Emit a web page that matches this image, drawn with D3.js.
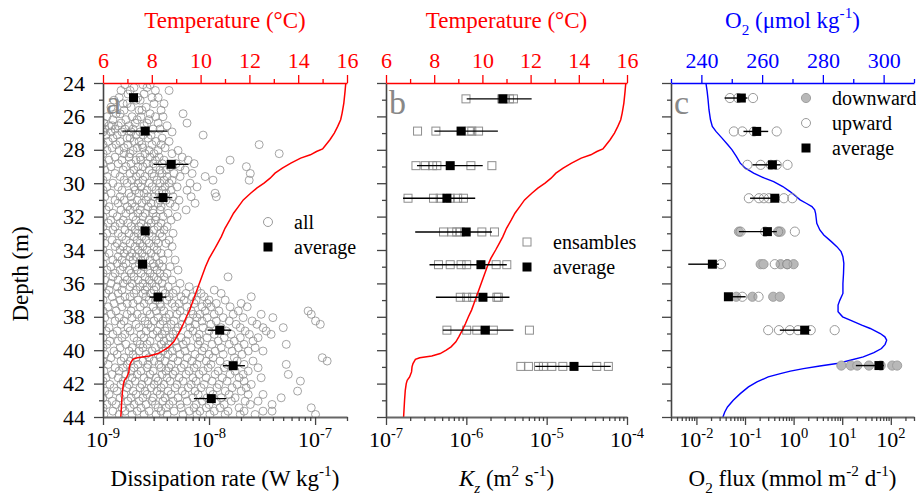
<!DOCTYPE html>
<html>
<head>
<meta charset="utf-8">
<script src="https://cdn.jsdelivr.net/npm/d3@7"></script>
<style>
  body { margin: 0; background: #fff; }
</style>
</head>
<body>
<svg id="chart" width="916" height="496"></svg>
<script>
// ---- data ----

// temperature profile (same cast used in panels a and b)
const tempDepth = [24.0, 24.5, 25.2, 25.8, 26.2, 26.6, 27.0, 27.4, 27.8, 27.95, 28.1, 28.3, 28.5, 28.8, 29.1, 29.4, 29.7, 30.0, 30.3, 30.6, 31.0, 31.4, 31.8, 32.2, 32.7, 33.2, 33.6, 34.0, 34.5, 35.0, 35.6, 36.2, 36.8, 37.2, 37.6, 38.0, 38.4, 38.8, 39.2, 39.5, 39.8, 40.0, 40.2, 40.35, 40.45, 40.55, 40.8, 41.0, 41.3, 41.6, 41.8, 42.0, 42.4, 43.0, 44.0];
const tempValue = [15.95, 15.92, 15.87, 15.8, 15.74, 15.62, 15.48, 15.3, 15.08, 15.0, 14.75, 14.5, 14.1, 13.7, 13.35, 13.05, 12.85, 12.6, 12.3, 12.05, 11.75, 11.55, 11.35, 11.2, 11.0, 10.85, 10.7, 10.55, 10.35, 10.2, 10.05, 9.9, 9.75, 9.65, 9.55, 9.42, 9.3, 9.17, 9.02, 8.9, 8.7, 8.5, 8.25, 7.9, 7.4, 7.22, 7.12, 7.08, 7.06, 6.98, 6.88, 6.84, 6.8, 6.77, 6.73];

// O2 profile (panel c)
const o2Depth = [24.0, 24.5, 25.0, 25.6, 26.2, 26.6, 26.9, 27.3, 27.7, 28.0, 28.4, 28.8, 29.1, 29.4, 29.7, 29.9, 30.2, 30.5, 30.8, 31.0, 31.2, 31.4, 31.6, 31.8, 32.1, 32.4, 32.8, 33.1, 33.5, 33.8, 34.1, 34.4, 34.8, 35.4, 36.0, 36.6, 37.0, 37.3, 37.7, 38.0, 38.2, 38.5, 38.7, 39.0, 39.2, 39.4, 39.65, 39.9, 40.15, 40.4, 40.6, 40.8, 40.95, 41.1, 41.25, 41.4, 41.6, 41.9, 42.2, 42.6, 43.0, 43.4, 43.7, 44.0];
const o2Value = [241.5, 241.9, 242.2, 242.5, 243.0, 243.6, 244.8, 246.8, 248.7, 250.1, 251.5, 252.8, 254.5, 257.2, 260.8, 263.8, 266.8, 269.2, 271.2, 272.5, 274.5, 276.4, 277.3, 277.6, 277.8, 278.0, 279.0, 280.3, 282.8, 284.6, 286.0, 286.6, 286.9, 286.8, 286.6, 286.6, 285.6, 285.0, 285.0, 286.5, 289.0, 292.8, 295.6, 298.9, 300.4, 301.0, 300.5, 299.3, 296.8, 293.3, 289.0, 284.6, 279.0, 273.6, 269.3, 266.0, 262.0, 258.3, 255.5, 252.8, 250.5, 248.6, 247.7, 247.1];

// dissipation rate, all samples: [depth, values in 1e-9 W kg-1]
const epsRows = [
  [24.1, [1.61, 2.38, 2.78]],
  [24.27, [1.96, 2.6]],
  [24.45, [1.48, 1.8, 3.12, 4.2]],
  [24.66, [1.72, 2.44]],
  [24.87, [1.42, 2.14, 2.9, 3.31]],
  [25.03, [1.27, 2.05, 2.24]],
  [25.24, [1.55, 1.69, 3.03, 3.76]],
  [25.45, [1.19, 1.84, 2.55]],
  [25.63, [1.58, 2.19, 2.33, 3.53]],
  [25.84, [1.33, 1.45, 2.78, 5.69]],
  [26.02, [1.09, 1.88, 2.28, 3.12, 3.68]],
  [26.2, [1.24, 1.65, 2.1, 2.72]],
  [26.4, [1.02, 1.48, 2.01, 2.6, 3.31, 6.2]],
  [26.57, [1.14, 1.22, 1.39, 1.76, 2.44, 4.02]],
  [26.76, [1.04, 1.3, 1.61, 1.92, 2.97, 3.45]],
  [26.93, [1.0, 1.19, 1.51, 1.84, 2.24, 4.48]],
  [27.12, [1.07, 1.36, 2.05, 2.38, 2.84, 8.8]],
  [27.3, [1.24, 1.69, 1.8, 2.66, 3.61]],
  [27.5, [1.12, 1.45, 1.96, 2.19, 3.17, 4.2]],
  [27.69, [1.0, 1.33, 1.72, 2.33, 2.9, 3.53, 29.7]],
  [27.88, [1.22, 1.58, 2.1, 2.38, 3.85]],
  [28.04, [1.09, 1.42, 1.92, 2.72, 3.31, 5.1]],
  [28.23, [1.0, 1.58, 1.8, 2.49, 3.03, 4.48, 45.9]],
  [28.44, [1.3, 1.76, 2.24, 2.78, 3.38, 5.58]],
  [28.62, [1.14, 1.51, 2.05, 2.28, 3.12, 3.76, 6.35, 15.8]],
  [28.83, [1.0, 1.39, 1.84, 2.6, 2.97, 3.61, 4.89, 7.23]],
  [29.01, [1.19, 1.65, 2.14, 2.38, 3.17, 4.29, 5.33, 22.5]],
  [29.21, [1.04, 1.55, 1.96, 2.72, 3.45, 3.93, 5.95, 12.7]],
  [29.42, [1.3, 1.8, 2.24, 2.9, 3.61, 4.68, 6.92, 24.5]],
  [29.6, [1.09, 1.45, 2.05, 2.49, 3.03, 4.02, 5.33, 9.2]],
  [29.82, [1.0, 1.58, 1.88, 2.38, 3.23, 3.76, 4.48, 10.9, 23.9]],
  [30.0, [1.24, 1.69, 2.14, 2.72, 3.45, 4.2, 6.63]],
  [30.22, [1.09, 1.39, 1.96, 2.28, 2.9, 3.85, 5.0, 7.7]],
  [30.42, [1.0, 1.51, 2.01, 2.6, 3.17, 3.61, 4.39, 6.2]],
  [30.6, [1.19, 1.76, 2.19, 2.44, 3.38, 3.93, 11.4]],
  [30.81, [1.04, 1.45, 1.84, 2.66, 3.03, 4.58, 6.78, 11.7]],
  [31.02, [1.3, 1.58, 2.1, 2.55, 3.45, 3.93, 5.21]],
  [31.2, [1.0, 1.39, 1.88, 2.33, 2.84, 3.31, 4.29, 7.38]],
  [31.41, [1.14, 1.69, 2.01, 2.66, 3.53, 4.79]],
  [31.6, [1.07, 1.48, 1.8, 2.24, 2.97, 3.45, 6.08]],
  [31.8, [1.24, 1.65, 2.14, 2.49, 2.97, 4.11]],
  [32.0, [1.0, 1.36, 1.92, 2.38, 3.17, 3.68, 5.0]],
  [32.21, [1.19, 1.55, 2.05, 2.72, 3.12, 4.39]],
  [32.39, [1.12, 1.45, 1.72, 2.28, 2.84, 3.53]],
  [32.6, [1.0, 1.3, 1.84, 2.19, 2.6, 3.31, 4.02]],
  [32.8, [1.24, 1.61, 2.01, 2.44, 3.03, 3.76]],
  [33.0, [1.09, 1.39, 1.76, 2.14, 2.72, 3.45, 4.58]],
  [33.19, [1.0, 1.51, 1.96, 2.33, 2.9, 3.61]],
  [33.41, [1.22, 1.65, 2.1, 2.55, 3.17, 4.2]],
  [33.6, [1.04, 1.36, 1.8, 2.24, 2.72, 3.31, 3.93]],
  [33.79, [1.3, 1.55, 2.01, 2.38, 3.03, 4.48]],
  [34.0, [1.0, 1.45, 1.69, 2.14, 2.6, 3.23]],
  [34.2, [1.14, 1.58, 1.88, 2.33, 2.84, 3.53, 4.11]],
  [34.4, [1.04, 1.39, 1.8, 2.05, 2.49, 3.12]],
  [34.6, [1.24, 1.51, 1.92, 2.28, 2.78, 3.68, 4.79]],
  [34.81, [1.0, 1.36, 1.65, 2.19, 2.97, 3.38]],
  [35.0, [1.19, 1.55, 2.01, 2.44, 3.03, 3.61, 4.29]],
  [35.2, [1.09, 1.45, 1.76, 2.1, 2.66, 3.23, 5.1]],
  [35.4, [1.0, 1.3, 1.84, 2.28, 2.78, 3.45, 4.02]],
  [35.61, [1.24, 1.61, 1.96, 2.49, 3.03, 3.76, 15.1]],
  [35.8, [1.04, 1.39, 1.69, 2.14, 2.72, 3.31, 4.48]],
  [36.0, [1.19, 1.55, 1.88, 2.38, 2.9, 3.61, 5.33]],
  [36.2, [1.0, 1.36, 1.8, 2.24, 2.6, 3.17, 4.11, 6.49]],
  [36.4, [1.14, 1.51, 2.05, 2.49, 3.03, 3.68, 4.89, 7.7, 11.2]],
  [36.6, [1.07, 1.39, 1.96, 2.38, 2.84, 3.85, 4.58, 6.08, 8.4, 13.0]],
  [36.8, [1.22, 1.61, 1.8, 2.55, 3.31, 4.2, 5.45, 6.92, 9.0, 25.0]],
  [37.0, [1.0, 1.45, 2.14, 2.72, 3.12, 4.02, 5.82, 7.55, 10.0, 14.2]],
  [37.2, [1.27, 1.69, 1.92, 2.44, 3.45, 4.48, 5.21, 7.23, 9.6, 11.7, 20.1]],
  [37.4, [1.12, 1.51, 2.24, 2.97, 3.53, 4.79, 6.2, 8.6, 10.4, 15.8, 22.9]],
  [37.65, [1.0, 1.33, 1.84, 2.6, 3.17, 3.76, 5.33, 6.78, 9.2, 12.4, 18.9, 86]],
  [37.85, [1.19, 1.69, 2.1, 2.78, 4.2, 5.0, 7.07, 8.2, 11.2, 16.9, 31, 92]],
  [38.05, [1.04, 1.42, 1.88, 2.33, 3.31, 3.93, 5.69, 7.7, 9.6, 13.6, 21, 40]],
  [38.25, [1.3, 1.58, 2.49, 3.03, 3.68, 4.68, 6.49, 8.6, 11.7, 15.5, 25.5, 101]],
  [38.45, [1.0, 1.48, 2.05, 2.66, 3.45, 4.39, 5.58, 7.38, 10.4, 18, 28.3, 112]],
  [38.65, [1.14, 1.72, 2.19, 2.84, 4.02, 5.1, 6.63, 8.8, 13.0, 19.7, 32.3, 50.1]],
  [38.85, [1.07, 1.36, 1.8, 2.55, 3.23, 3.85, 4.89, 7.07, 10.0, 14.5, 21.9, 34.6]],
  [39.05, [1.24, 1.61, 2.28, 2.97, 3.61, 4.58, 6.35, 8.05, 11.2, 16.2, 24, 38.5]],
  [39.25, [1.0, 1.51, 1.96, 2.44, 3.38, 4.29, 5.45, 7.7, 9.6, 13.9, 19.7, 29]],
  [39.45, [1.16, 1.39, 2.1, 2.78, 3.76, 4.79, 6.08, 8.2, 12.2, 17.3, 26]],
  [39.65, [1.09, 1.65, 2.24, 2.6, 3.53, 4.2, 5.69, 7.9, 10.7, 15.5, 21.4, 53.5]],
  [39.85, [1.0, 1.45, 1.88, 2.38, 3.12, 3.93, 5.0, 6.78, 9.0, 13.0, 18.9, 27.2]],
  [40.05, [1.27, 1.76, 2.19, 2.9, 3.68, 4.48, 5.95, 8.6, 11.4, 16.5, 23.4, 32.3]],
  [40.25, [1.04, 1.36, 1.92, 2.55, 3.31, 4.11, 5.33, 7.38, 10.0, 13.6, 20.5]],
  [40.45, [1.19, 1.58, 2.05, 2.72, 3.45, 4.58, 6.2, 8.2, 10.9, 17.3, 117]],
  [40.65, [1.0, 1.48, 1.8, 2.38, 3.03, 3.85, 5.1, 6.92, 9.4, 12.7, 18.4, 26, 130]],
  [40.85, [1.12, 1.69, 2.14, 2.66, 3.38, 4.39, 5.82, 7.7, 10.4, 14.8, 21.4, 53.5]],
  [41.05, [1.3, 1.55, 1.96, 2.6, 3.53, 4.2, 5.45, 7.23, 9.8, 13.9, 29]],
  [41.25, [1.02, 1.42, 1.84, 2.28, 2.97, 3.93, 4.79, 6.49, 8.8, 12.2, 17.6, 23.4]],
  [41.45, [1.22, 1.65, 2.1, 2.78, 3.61, 4.58, 6.08, 8.05, 11.4, 15.8, 21, 55.9]],
  [41.65, [1.07, 1.39, 1.88, 2.44, 3.17, 4.02, 5.21, 7.07, 9.4, 13.3, 19.2, 31]],
  [41.85, [1.0, 1.55, 2.01, 2.66, 3.31, 4.29, 5.69, 7.55, 10.7, 14.8, 21.4, 72.7]],
  [42.05, [1.16, 1.48, 1.76, 2.33, 3.03, 3.76, 5.0, 6.78, 9.0, 12.4, 18.4, 25]],
  [42.25, [1.27, 1.69, 2.24, 2.84, 3.53, 4.79, 6.35, 8.4, 11.9, 16.5, 22.4]],
  [42.45, [1.04, 1.36, 1.92, 2.49, 3.23, 4.11, 5.58, 7.38, 10.2, 14.2, 20.1, 68.4]],
  [42.65, [1.14, 1.58, 2.05, 2.6, 3.45, 4.39, 5.95, 7.9, 10.9, 15.5, 23.4, 32.3]],
  [42.85, [1.0, 1.45, 1.84, 2.38, 2.97, 3.85, 5.1, 7.07, 9.6, 13.0, 17.6, 47.9]],
  [43.05, [1.22, 1.72, 2.19, 2.9, 3.68, 4.58, 6.2, 8.6, 11.7, 16.2, 21.9, 29]],
  [43.25, [1.09, 1.33, 1.96, 2.55, 3.12, 4.2, 5.33, 7.55, 10.0, 13.9, 24.5, 39.3]],
  [43.45, [1.0, 1.51, 1.8, 2.28, 3.31, 3.93, 5.45, 7.23, 9.4, 12.7, 19.2, 92]],
  [43.65, [1.24, 1.61, 2.1, 2.72, 3.53, 4.68, 6.49, 8.2, 11.2, 15.1, 21.4, 32.3, 39.3]],
  [43.85, [1.02, 1.42, 1.88, 2.44, 3.17, 4.02, 5.69, 7.7, 10.2, 14.2, 19.7, 27.2, 101]]
];

// dissipation rate, bin averages (W kg-1)
const epsAvgDepth = [24.88, 26.88, 28.87, 30.86, 32.86, 34.85, 36.82, 38.8, 40.93, 42.9];
const epsAvg = [1.94e-9, 2.5e-9, 4.4e-9, 3.68e-9, 2.5e-9, 2.36e-9, 3.3e-9, 1.26e-8, 1.69e-8, 1.05e-8];
const epsLow = [1.85e-9, 1.52e-9, 3.0e-9, 3.0e-9, 2.4e-9, 2.25e-9, 2.75e-9, 9.7e-9, 1.35e-8, 7.2e-9];
const epsHigh = [2.03e-9, 4.07e-9, 6.4e-9, 4.5e-9, 2.6e-9, 2.47e-9, 3.96e-9, 1.62e-8, 2.18e-8, 1.46e-8];

// Kz ensembles (m2 s-1), one list per depth bin
const kzDepth = [24.95, 26.88, 28.95, 30.9, 32.92, 34.88, 36.83, 38.8, 40.97];
const kzEnsembles = [
  [9.9e-7, 2.77e-6, 2.96e-6, 3.44e-6, 3.86e-6],
  [2.47e-7, 4.18e-7, 1.09e-6, 1.17e-6, 1.42e-6],
  [2.36e-7, 3.08e-7, 3.8e-7, 4.3e-7, 1.14e-6, 2.08e-6],
  [1.88e-7, 3.9e-7, 4.73e-7, 6.3e-7, 7.8e-7, 9.2e-7],
  [5.2e-7, 6.6e-7, 7.6e-7, 8.4e-7, 1.56e-6, 2.24e-6],
  [4.5e-7, 6.3e-7, 8.6e-7, 1.01e-6, 2.35e-6, 3.19e-6],
  [8.4e-7, 1.01e-6, 1.2e-6, 2.4e-6, 2.5e-6],
  [5.73e-7, 1.01e-6, 1.35e-6, 2.17e-6, 6.1e-6],
  [4.77e-6, 5.93e-6, 7.9e-6, 9.1e-6, 1.16e-5, 1.59e-5, 4.2e-5, 5.86e-5]
];
const kzAvg = [2.85e-6, 8.6e-7, 6.3e-7, 5.73e-7, 9.96e-7, 1.52e-6, 1.61e-6, 1.72e-6, 2.19e-5];
const kzLow = [1.01e-6, 4.0e-7, 2.43e-7, 1.63e-7, 2.31e-7, 3.48e-7, 4.18e-7, 5.1e-7, 7.2e-6];
const kzHigh = [6.5e-6, 2.47e-6, 1.6e-6, 1.29e-6, 2.08e-6, 3.19e-6, 3.44e-6, 3.86e-6, 6.27e-5];

// O2 flux (mmol m-2 d-1), downward / upward estimates per depth bin
const fluxDepth = [24.9, 26.9, 28.9, 30.9, 32.9, 34.85, 36.8, 38.8, 40.92];
const fluxDown = [
  [], [], [], [],
  [0.075, 0.5, 0.54],
  [0.21, 0.24, 0.54, 0.74, 1.0],
  [0.066, 0.142, 0.38, 0.52],
  [],
  [9.6, 15, 20.4, 35.5, 62, 107, 135]
];
const fluxUp = [
  [0.049, 0.072, 0.146],
  [0.059, 0.088, 0.153, 0.449],
  [0.112, 0.21, 0.34, 0.45, 0.75],
  [0.12, 0.194, 0.245, 0.31, 0.63, 0.94],
  [0.081, 0.26, 0.48, 1.06],
  [0.032, 0.41, 0.74],
  [0.088, 0.19],
  [0.3, 0.5, 0.84, 1.23, 2.25, 7.0],
  []
];
const fluxAvg = [0.084, 0.174, 0.366, 0.41, 0.289, 0.0213, 0.0455, 1.69, 57];
const fluxLow = [0.038, 0.093, 0.143, 0.127, 0.075, 0.0068, 0.038, 0.52, 19.1];
const fluxHigh = [0.112, 0.3, 0.54, 0.5, 0.45, 0.029, 0.103, 2.25, 72];

const depthMajor = [24, 26, 28, 30, 32, 34, 36, 38, 40, 42, 44];
const depthMinor = [25, 27, 29, 31, 33, 35, 37, 39, 41, 43];
const tempMajor = [6, 8, 10, 12, 14, 16];
const tempMinor = [7, 9, 11, 13, 15];
const o2Major = [240, 260, 280, 300];
const o2Minor = [230, 250, 270, 290, 310];

// ---- layout ----
const FONT = '"Liberation Serif", "Times New Roman", Times, serif';
const svg = d3.select('#chart').attr('font-family', FONT);
const RED = '#ff0000', BLUE = '#0000ff';
const y = d3.scaleLinear().domain([24, 44]).range([83, 417]);

const pa = { left: 103, right: 347 };
const pb = { left: 386, right: 627 };
const pc = { left: 671, right: 914 };

const xTempA = d3.scaleLinear().domain([6, 16]).range([pa.left, pa.right]);
const xEps = d3.scaleLog().domain([1e-9, 2e-7]).range([pa.left, pa.right]);
const xTempB = d3.scaleLinear().domain([6, 16]).range([pb.left, pb.right]);
const xKz = d3.scaleLog().domain([1e-7, 1e-4]).range([pb.left, pb.right]);
const xO2 = d3.scaleLinear().domain([230, 310]).range([pc.left, pc.right]);
const xFlux = d3.scaleLog().domain([3e-3, 3e2]).range([pc.left, pc.right]);

// text with sub/superscripts: parts = [[text, 'sup'|'sub'|null, italic?]]
function richText(g, x, yy, parts, size, color) {
  const t = g.append('text')
    .attr('x', x).attr('y', yy)
    .attr('text-anchor', 'middle')
    .attr('font-family', FONT)
    .attr('font-size', size)
    .attr('fill', color || '#000');
  let shift = 0;
  parts.forEach(([str, kind, italic]) => {
    const target = kind === 'sup' ? -size * 0.42 : kind === 'sub' ? size * 0.3 : 0;
    const ts = t.append('tspan').attr('dy', target - shift).text(str);
    if (kind) ts.attr('font-size', size * 0.66);
    if (italic) ts.attr('font-style', 'italic');
    shift = target;
  });
  return t;
}

function drawAxes(p, topScale, topMaj, topMin, topColor, botScale, withDepthLabels) {
  // left depth axis
  const left = svg.append('g').attr('transform', `translate(${p.left},0)`);
  left.call(d3.axisLeft(y).tickValues(depthMajor).tickSize(9).tickSizeOuter(0)
    .tickPadding(9).tickFormat(withDepthLabels ? d3.format('d') : ''));
  left.append('g').call(d3.axisLeft(y).tickValues(depthMinor).tickSize(4).tickFormat(''))
    .select('.domain').remove();
  left.selectAll('path.domain').attr('stroke', '#444').attr('stroke-width', 1.6);
  left.selectAll('.tick line').attr('stroke', '#444').attr('stroke-width', 1.3);

  // bottom log axis
  const allTicks = botScale.ticks();
  const major = allTicks.filter(v => Math.abs(Math.log10(v) - Math.round(Math.log10(v))) < 1e-6);
  const minor = allTicks.filter(v => !major.includes(v));
  const bot = svg.append('g').attr('transform', `translate(0,${y(44)})`);
  bot.call(d3.axisBottom(botScale).tickValues(major).tickSize(8).tickSizeOuter(0).tickFormat(''));
  bot.append('g').call(d3.axisBottom(botScale).tickValues(minor).tickSize(4).tickFormat(''))
    .select('.domain').remove();
  bot.selectAll('path.domain').attr('stroke', '#666').attr('stroke-width', 2);
  bot.selectAll('.tick line').attr('stroke', '#444').attr('stroke-width', 1.3);
  major.forEach(v => {
    richText(bot, botScale(v), 30,
      [['10', null], [String(Math.round(Math.log10(v))), 'sup']], 22);
  });

  // top linear axis (profile variable)
  const top = svg.append('g').attr('transform', `translate(0,${y(24)})`);
  top.call(d3.axisTop(topScale).tickValues(topMaj).tickSize(8).tickSizeOuter(0)
    .tickPadding(7).tickFormat(d3.format('d')));
  top.append('g').call(d3.axisTop(topScale).tickValues(topMin).tickSize(4).tickFormat(''))
    .select('.domain').remove();
  top.selectAll('path.domain').attr('stroke', topColor).attr('stroke-width', 1.6);
  top.selectAll('.tick line').attr('stroke', topColor).attr('stroke-width', 1.3);
  top.selectAll('.tick text').attr('fill', topColor);

  [left, bot, top].forEach(g => {
    g.selectAll('g').attr('font-family', null);
    g.attr('font-family', FONT);
    g.selectAll('.tick text').attr('font-size', 22).attr('font-family', FONT);
  });
  left.selectAll('.tick text').attr('fill', '#000');
}

function clipFor(id, p) {
  svg.append('clipPath').attr('id', id).append('rect')
    .attr('x', p.left).attr('y', y(24)).attr('width', p.right - p.left).attr('height', y(44) - y(24));
  return `url(#${id})`;
}

function avgMarks(g, depths, avg, lo, hi, xs) {
  g.selectAll('line.err').data(depths).join('line')
    .attr('class', 'err')
    .attr('x1', (d, i) => xs(lo[i])).attr('x2', (d, i) => xs(hi[i]))
    .attr('y1', d => y(d)).attr('y2', d => y(d))
    .attr('stroke', '#000').attr('stroke-width', 1.4);
  g.selectAll('rect.avg').data(depths).join('rect')
    .attr('class', 'avg')
    .attr('x', (d, i) => xs(avg[i]) - 4.5).attr('y', d => y(d) - 4.5)
    .attr('width', 9).attr('height', 9).attr('fill', '#000');
}

const line = (xs, depths) => d3.line().x(d => xs(d[1])).y(d => y(d[0]))(depths);

// ---- panel a ----
const ga = svg.append('g');
const epsPoints = epsRows.flatMap(([d, vals]) => vals.map(v => [d, v * 1e-9]));
ga.append('g').attr('clip-path', clipFor('clipA', pa))
  .selectAll('circle').data(epsPoints).join('circle')
  .attr('cx', d => xEps(d[1])).attr('cy', d => y(d[0])).attr('r', 4)
  .attr('fill', 'none').attr('stroke', '#8e8e8e').attr('stroke-width', 0.8);
ga.append('path')
  .attr('d', line(xTempA, tempDepth.map((d, i) => [d, tempValue[i]])))
  .attr('fill', 'none').attr('stroke', RED).attr('stroke-width', 1.5);
avgMarks(ga, epsAvgDepth, epsAvg, epsLow, epsHigh, xEps);

// ---- panel b ----
const gb = svg.append('g');
const kzPoints = kzDepth.flatMap((d, i) => kzEnsembles[i].map(v => [d, v]));
gb.selectAll('rect.ens').data(kzPoints).join('rect')
  .attr('class', 'ens')
  .attr('x', d => xKz(d[1]) - 4).attr('y', d => y(d[0]) - 4)
  .attr('width', 8).attr('height', 8)
  .attr('fill', 'none').attr('stroke', '#8e8e8e').attr('stroke-width', 1);
gb.append('path')
  .attr('d', line(xTempB, tempDepth.map((d, i) => [d, tempValue[i]])))
  .attr('fill', 'none').attr('stroke', RED).attr('stroke-width', 1.5);
avgMarks(gb, kzDepth, kzAvg, kzLow, kzHigh, xKz);

// ---- panel c ----
const gc = svg.append('g');
gc.append('path')
  .attr('d', line(xO2, o2Depth.map((d, i) => [d, o2Value[i]])))
  .attr('fill', 'none').attr('stroke', BLUE).attr('stroke-width', 1.4);
const downPts = fluxDepth.flatMap((d, i) => fluxDown[i].map(v => [d, v]));
const upPts = fluxDepth.flatMap((d, i) => fluxUp[i].map(v => [d, v]));
gc.selectAll('circle.down').data(downPts).join('circle')
  .attr('class', 'down')
  .attr('cx', d => xFlux(d[1])).attr('cy', d => y(d[0])).attr('r', 4.6)
  .attr('fill', '#b8b8b8').attr('stroke', '#9a9a9a').attr('stroke-width', 0.9);
gc.selectAll('circle.up').data(upPts).join('circle')
  .attr('class', 'up')
  .attr('cx', d => xFlux(d[1])).attr('cy', d => y(d[0])).attr('r', 4.6)
  .attr('fill', 'none').attr('stroke', '#8e8e8e').attr('stroke-width', 0.9);
avgMarks(gc, fluxDepth, fluxAvg, fluxLow, fluxHigh, xFlux);

// ---- axes ----
drawAxes(pa, xTempA, tempMajor, tempMinor, RED, xEps, true);
drawAxes(pb, xTempB, tempMajor, tempMinor, RED, xKz, false);
drawAxes(pc, xO2, o2Major, o2Minor, BLUE, xFlux, false);

// axis titles
const cx = p => (p.left + p.right) / 2;
richText(svg, cx(pa), 28, [['Temperature (°C)']], 23, RED);
richText(svg, cx(pb), 28, [['Temperature (°C)']], 23, RED);
richText(svg, cx(pc), 28, [['O'], ['2', 'sub'], [' (μmol kg'], ['-1', 'sup'], [')']], 23, BLUE);
richText(svg, cx(pa), 486, [['Dissipation rate (W kg'], ['-1', 'sup'], [')']], 23);
richText(svg, cx(pb), 486, [['K', null, true], ['z', 'sub', true], [' (m'], ['2', 'sup'], [' s'], ['-1', 'sup'], [')']], 23);
richText(svg, cx(pc), 486, [['O'], ['2', 'sub'], [' flux (mmol m'], ['-2', 'sup'], [' d'], ['-1', 'sup'], [')']], 23);
svg.append('text')
  .attr('transform', `translate(28,${(y(24) + y(44)) / 2 + 24}) rotate(-90)`)
  .attr('text-anchor', 'middle').attr('font-family', FONT).attr('font-size', 23).text('Depth (m)');

// panel letters
[['a', pa], ['b', pb], ['c', pc]].forEach(([s, p]) => {
  svg.append('text').attr('x', p.left + 3).attr('y', 114)
    .attr('font-family', FONT).attr('font-size', 34).attr('fill', '#888').text(s);
});

// ---- legends ----
function legendRow(x, yy, kind, label) {
  const g = svg.append('g');
  if (kind === 'open') g.append('circle').attr('cx', x).attr('cy', yy).attr('r', 4.5)
    .attr('fill', 'none').attr('stroke', '#8e8e8e').attr('stroke-width', 0.9);
  if (kind === 'gray') g.append('circle').attr('cx', x).attr('cy', yy).attr('r', 4.6)
    .attr('fill', '#b8b8b8').attr('stroke', '#9a9a9a').attr('stroke-width', 0.9);
  if (kind === 'square') g.append('rect').attr('x', x - 4).attr('y', yy - 4).attr('width', 8).attr('height', 8)
    .attr('fill', 'none').attr('stroke', '#8e8e8e');
  if (kind === 'avg') g.append('rect').attr('x', x - 4.5).attr('y', yy - 4.5).attr('width', 9).attr('height', 9)
    .attr('fill', '#000');
  g.append('text').attr('x', x + 26).attr('y', yy + 7)
    .attr('font-family', FONT).attr('font-size', 20).text(label);
}
legendRow(268, 222, 'open', 'all');
legendRow(268, 247, 'avg', 'average');
legendRow(527, 242, 'square', 'ensambles');
legendRow(527, 267, 'avg', 'average');
legendRow(806, 98, 'gray', 'downward');
legendRow(806, 123, 'open', 'upward');
legendRow(806, 148, 'avg', 'average');
</script>
</body>
</html>
